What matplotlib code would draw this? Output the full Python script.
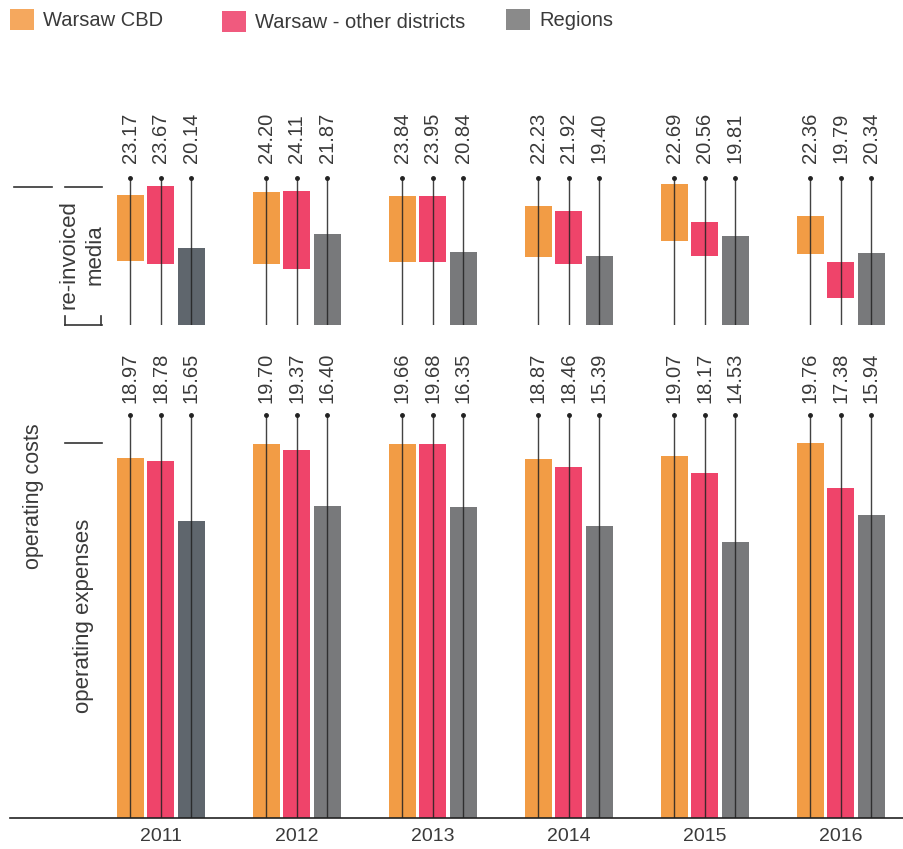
import matplotlib
matplotlib.use("Agg")
import matplotlib.pyplot as plt
from matplotlib.patches import Patch
from matplotlib.lines import Line2D
import numpy as np

# ---------------- data ----------------
years = ["2011", "2012", "2013", "2014", "2015", "2016"]
series = ["Warsaw CBD", "Warsaw - other districts", "Regions"]

# labels above the top panel (operating costs incl. re-invoiced media)
total_cbd = [23.17, 24.20, 23.84, 22.23, 22.69, 22.36]
total_other = [23.67, 24.11, 23.95, 21.92, 20.56, 19.79]
total_regions = [20.14, 21.87, 20.84, 19.40, 19.81, 20.34]

# operating expenses (bottom panel)
ops_cbd = [18.97, 19.70, 19.66, 18.87, 19.07, 19.76]
ops_other = [18.78, 19.37, 19.68, 18.46, 18.17, 17.38]
ops_regions = [15.65, 16.40, 16.35, 15.39, 14.53, 15.94]

# re-invoiced media floating bars (top panel scale)
media_top_cbd = [8.13, 8.31, 8.06, 7.44, 8.81, 6.81]
media_bot_cbd = [4.02, 3.81, 3.94, 4.25, 5.25, 4.44]
media_top_other = [8.69, 8.38, 8.06, 7.13, 6.44, 3.94]
media_bot_other = [3.81, 3.50, 3.94, 3.81, 4.31, 1.69]
media_top_regions = [4.81, 5.69, 4.56, 4.31, 5.56, 4.50]
media_bot_regions = [0.0, 0.0, 0.0, 0.0, 0.0, 0.0]

# ---------------- style ----------------
W, H = 904, 849
c_cbd = "#F29C45"
c_other = "#EF446A"
c_reg = "#78797B"
c_reg_2011 = "#5F666D"
reg_colors = [c_reg_2011] + [c_reg] * 5
leg_colors = ["#F5A85E", "#F05A7E", "#8A8A8A"]
txt_color = "#3a3a3a"
line_color = "#222222"

plt.rcParams["font.family"] = ["Liberation Sans", "DejaVu Sans"]
hand_font = ["Liberation Sans Narrow", "Liberation Sans", "DejaVu Sans"]
num_fs = 14.5

fig = plt.figure(figsize=(W / 100, H / 100), dpi=100)

def fx(px):
    return px / W

def fy(py):
    return 1 - py / H

x_left, x_right = 10, 904
ax_w = (x_right - x_left) / W
xlim = ((x_left - 161) / 136, (x_right - 161) / 136)

x = np.arange(len(years))
off = 30.5 / 136
bw = 27 / 136
xs = [x - off, x, x + off]

# ---------------- bottom panel ----------------
axb = fig.add_axes([fx(x_left), 1 - 818 / H, ax_w, 408.5 / H])
axb.set_xlim(*xlim)
axb.set_ylim(0, 21.5)
ops = [ops_cbd, ops_other, ops_regions]
cols = [[c_cbd] * 6, [c_other] * 6, reg_colors]
dot_b = 21.21
for k in range(3):
    axb.bar(xs[k], ops[k], width=bw, color=cols[k], zorder=1)
    for i in range(len(years)):
        axb.plot([xs[k][i], xs[k][i]], [0, dot_b], color=line_color, lw=1.0,
                 alpha=0.85, zorder=3, solid_capstyle="butt")
        axb.plot(xs[k][i], dot_b, "o", ms=2.5, color=line_color, zorder=4)
        axb.annotate(f"{ops[k][i]:.2f}", (xs[k][i], dot_b), xytext=(0, 9.0),
                     textcoords="offset points", rotation=90, ha="center",
                     va="bottom", fontsize=num_fs, color=txt_color,
                     annotation_clip=False)
for s in ["top", "right", "left"]:
    axb.spines[s].set_visible(False)
axb.spines["bottom"].set_color("#222222")
axb.spines["bottom"].set_linewidth(1.2)
axb.set_yticks([])
axb.set_xticks(x)
axb.set_xticklabels(years, fontsize=14, color=txt_color)
axb.tick_params(axis="x", length=0, pad=7)

# ---------------- top panel ----------------
axt = fig.add_axes([fx(x_left), 1 - 325 / H, ax_w, 160 / H])
axt.set_xlim(*xlim)
axt.set_ylim(0, 10)
tops = [media_top_cbd, media_top_other, media_top_regions]
bots = [media_bot_cbd, media_bot_other, media_bot_regions]
totals = [total_cbd, total_other, total_regions]
dot_t = 9.19
for k in range(3):
    h = np.array(tops[k]) - np.array(bots[k])
    axt.bar(xs[k], h, bottom=bots[k], width=bw, color=cols[k], zorder=1)
    for i in range(len(years)):
        axt.plot([xs[k][i], xs[k][i]], [0, dot_t], color=line_color, lw=1.0,
                 alpha=0.85, zorder=3, solid_capstyle="butt")
        axt.plot(xs[k][i], dot_t, "o", ms=2.5, color=line_color, zorder=4)
        axt.annotate(f"{totals[k][i]:.2f}", (xs[k][i], dot_t), xytext=(0, 10.5),
                     textcoords="offset points", rotation=90, ha="center",
                     va="bottom", fontsize=num_fs, color=txt_color,
                     annotation_clip=False)
axt.axis("off")

# ---------------- left-hand annotations ----------------
def hline(x0, x1, y):
    fig.add_artist(Line2D([fx(x0), fx(x1)], [fy(y), fy(y)], color="#333333", lw=1.2))

def vline(x0, y0, y1):
    fig.add_artist(Line2D([fx(x0), fx(x0)], [fy(y0), fy(y1)], color="#333333", lw=1.2))

hline(14, 52, 187)
hline(65, 102, 187)
hline(65, 102, 325)
vline(65, 316, 325)
vline(101, 316, 325)
hline(65, 102, 443)

fig.text(fx(69), fy(255), "re-invoiced", rotation=90, ha="center", va="center",
         fontsize=16, family=hand_font, color=txt_color)
fig.text(fx(95), fy(255), "media", rotation=90, ha="center", va="center",
         fontsize=16, family=hand_font, color=txt_color)
fig.text(fx(34), fy(496), "operating costs", rotation=90, ha="center", va="center",
         fontsize=15.5, family=hand_font, color=txt_color)
fig.text(fx(83), fy(616), "operating expenses", rotation=90, ha="center", va="center",
         fontsize=16, family=hand_font, color=txt_color)

# ---------------- legend ----------------
leg_pos = [(10, 9), (222, 11), (506, 9)]
for name, col, (px, py) in zip(series, leg_colors, leg_pos):
    lg = fig.legend(handles=[Patch(facecolor=col, edgecolor="none", label=name)],
                    loc="upper left", bbox_to_anchor=(fx(px), fy(py)),
                    frameon=False, fontsize=num_fs, handlelength=1.2,
                    handleheight=1.2, handletextpad=0.45, borderpad=0,
                    borderaxespad=0, labelcolor=txt_color)

fig.savefig("out.png", dpi=100)
